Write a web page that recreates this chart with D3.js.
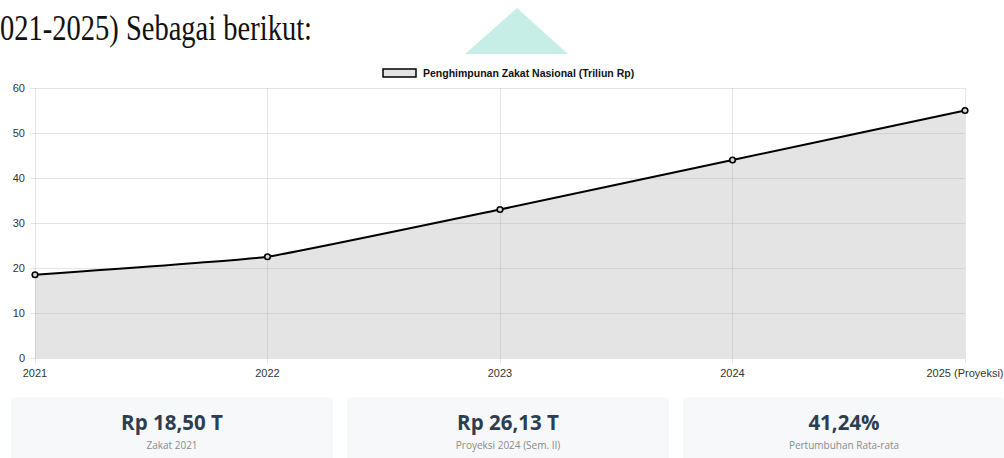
<!DOCTYPE html>
<html>
<head>
<meta charset="utf-8">
<script src="https://cdn.jsdelivr.net/npm/d3@7"></script>
<style>
  html, body { margin: 0; padding: 0; background: #fff; }
  svg { display: block; }
</style>
</head>
<body>
<svg id="chart" width="1004" height="458"></svg>
<script>
const years = ["2021", "2022", "2023", "2024", "2025 (Proyeksi)"];
const zakatValues = [18.5, 22.5, 33, 44, 55];
const yTicks = [0, 10, 20, 30, 40, 50, 60];
const seriesName = "Penghimpunan Zakat Nasional (Triliun Rp)";
const cardValues = ["Rp 18,50 T", "Rp 26,13 T", "41,24%"];
const cardLabels = ["Zakat 2021", "Proyeksi 2024 (Sem. II)", "Pertumbuhan Rata-rata"];
const headingText = "021-2025) Sebagai berikut:";

const svg = d3.select("#chart");

// heading text (cropped paragraph)
svg.append("text")
  .attr("x", 0).attr("y", 40)
  .attr("font-family", "'Liberation Serif', 'Times New Roman', serif")
  .attr("font-size", 35)
  .attr("fill", "#111")
  .attr("textLength", 312)
  .attr("lengthAdjust", "spacingAndGlyphs")
  .text(headingText);

// decorative teal triangle
svg.append("polygon")
  .attr("points", "517,8 568,54 465,54")
  .attr("fill", "#c6eee6");

// chart area
const x = d3.scalePoint().domain(years).range([35, 965]);
const y = d3.scaleLinear().domain([0, 60]).range([358, 88]);

const grid = svg.append("g");
grid.selectAll("line.h").data(yTicks).join("line")
  .attr("x1", 30).attr("x2", 965)
  .attr("y1", d => y(d)).attr("y2", d => y(d))
  .attr("stroke", "rgba(0,0,0,0.1)").attr("stroke-width", 1)
  .attr("shape-rendering", "crispEdges");
grid.selectAll("line.v").data(years).join("line")
  .attr("x1", d => x(d)).attr("x2", d => x(d))
  .attr("y1", 88).attr("y2", 363)
  .attr("stroke", "rgba(0,0,0,0.1)").attr("stroke-width", 1)
  .attr("shape-rendering", "crispEdges");

// y labels
svg.append("g").selectAll("text").data(yTicks).join("text")
  .attr("x", 25).attr("y", d => y(d))
  .attr("dy", "0.35em")
  .attr("text-anchor", "end")
  .attr("font-family", "'Liberation Sans', Arial, sans-serif")
  .attr("font-size", 11)
  .attr("fill", "#333")
  .text(d => d);

// x labels
svg.append("g").selectAll("text").data(years).join("text")
  .attr("x", d => x(d)).attr("y", 373)
  .attr("dy", "0.35em")
  .attr("text-anchor", "middle")
  .attr("font-family", "'Liberation Sans', Arial, sans-serif")
  .attr("font-size", 11)
  .attr("fill", "#333")
  .text(d => d);

const pts = years.map((yr, i) => ({ yr, v: zakatValues[i] }));
const curve = d3.curveCardinal.tension(0.7);

const area = d3.area()
  .x(d => x(d.yr)).y0(y(0)).y1(d => y(d.v)).curve(curve);
svg.append("path").datum(pts)
  .attr("d", area)
  .attr("fill", "rgba(170,170,170,0.32)");

const line = d3.line()
  .x(d => x(d.yr)).y(d => y(d.v)).curve(curve);
svg.append("path").datum(pts)
  .attr("d", line)
  .attr("fill", "none")
  .attr("stroke", "#000")
  .attr("stroke-width", 2);

svg.append("g").selectAll("circle").data(pts).join("circle")
  .attr("cx", d => x(d.yr)).attr("cy", d => y(d.v))
  .attr("r", 2.8)
  .attr("fill", "#d8d8d8")
  .attr("stroke", "#000")
  .attr("stroke-width", 1.6);

// legend
svg.append("rect")
  .attr("x", 383).attr("y", 69).attr("width", 33).attr("height", 8)
  .attr("fill", "#e4e4e4").attr("stroke", "#000").attr("stroke-width", 1.5);
svg.append("text")
  .attr("x", 423).attr("y", 73)
  .attr("dy", "0.35em")
  .attr("font-family", "'Liberation Sans', Arial, sans-serif")
  .attr("font-size", 10.5)
  .attr("font-weight", "bold")
  .attr("fill", "#111")
  .text(seriesName);

// summary cards
const cardW = 322, cardGap = 14, cardX0 = 11, cardY = 397;
const cards = svg.append("g").selectAll("g").data(cardValues).join("g")
  .attr("transform", (d, i) => `translate(${cardX0 + i * (cardW + cardGap)},${cardY})`);
cards.append("rect")
  .attr("width", cardW).attr("height", 80).attr("rx", 5)
  .attr("fill", "#f7f8fa");
cards.append("text")
  .attr("x", cardW / 2).attr("y", 26)
  .attr("dy", "0.35em")
  .attr("text-anchor", "middle")
  .attr("font-family", "'Open Sans', sans-serif")
  .attr("font-size", 20.5)
  .attr("font-weight", "bold")
  .attr("fill", "#2c3e50")
  .text(d => d);
cards.append("text")
  .attr("x", cardW / 2).attr("y", 48)
  .attr("dy", "0.35em")
  .attr("text-anchor", "middle")
  .attr("font-family", "'Open Sans', sans-serif")
  .attr("font-size", 10)
  .attr("fill", "#8a8a8a")
  .text((d, i) => cardLabels[i]);
</script>
</body>
</html>
